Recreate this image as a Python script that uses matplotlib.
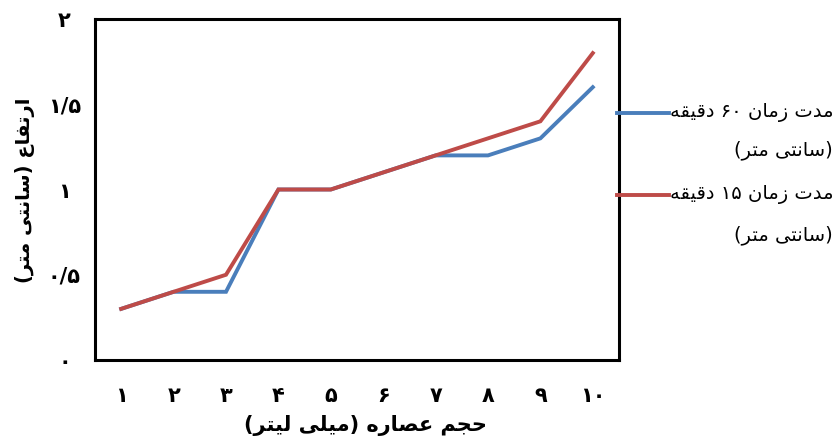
import re
import matplotlib
matplotlib.use("Agg")
import matplotlib.pyplot as plt
from matplotlib.lines import Line2D

plt.rcParams['font.family'] = ['DejaVu Sans']

# data
volume = [1, 2, 3, 4, 5, 6, 7, 8, 9, 10]
x_labels = ['۱', '۲', '۳', '۴', '۵', '۶', '۷', '۸', '۹', '۱۰']
h_60min = [0.3, 0.4, 0.4, 1.0, 1.0, 1.1, 1.2, 1.2, 1.3, 1.6]
h_15min = [0.3, 0.4, 0.5, 1.0, 1.0, 1.1, 1.2, 1.3, 1.4, 1.8]
y_ticks = [0, 0.5, 1, 1.5, 2]
y_labels = ['۰', '۰/۵', '۱', '۱/۵', '۲']

name_60 = 'مدت زمان ۶۰ دقیقه'
name_15 = 'مدت زمان ۱۵ دقیقه'
unit = '(سانتی متر)'
xlabel = 'حجم عصاره (میلی لیتر)'
ylabel = 'ارتفاع (سانتی متر)'

# matplotlib does no arabic shaping or bidi, so pick presentation forms by hand
FORMS = {
    'ا': ('\uFE8D', '\uFE8E'),
    'د': ('\uFEA9', '\uFEAA'),
    'ر': ('\uFEAD', '\uFEAE'),
    'ز': ('\uFEAF', '\uFEB0'),
    'ت': ('\uFE95', '\uFE96', '\uFE97', '\uFE98'),
    'ج': ('\uFE9D', '\uFE9E', '\uFE9F', '\uFEA0'),
    'ح': ('\uFEA1', '\uFEA2', '\uFEA3', '\uFEA4'),
    'س': ('\uFEB1', '\uFEB2', '\uFEB3', '\uFEB4'),
    'ص': ('\uFEB9', '\uFEBA', '\uFEBB', '\uFEBC'),
    'ع': ('\uFEC9', '\uFECA', '\uFECB', '\uFECC'),
    'ف': ('\uFED1', '\uFED2', '\uFED3', '\uFED4'),
    'ق': ('\uFED5', '\uFED6', '\uFED7', '\uFED8'),
    'ل': ('\uFEDD', '\uFEDE', '\uFEDF', '\uFEE0'),
    'م': ('\uFEE1', '\uFEE2', '\uFEE3', '\uFEE4'),
    'ن': ('\uFEE5', '\uFEE6', '\uFEE7', '\uFEE8'),
    'ه': ('\uFEE9', '\uFEEA', '\uFEEB', '\uFEEC'),
    '\u06CC': ('\uFEEF', '\uFEF0', '\uFEF3', '\uFEF4'),
    '\u064A': ('\uFEEF', '\uFEF0', '\uFEF3', '\uFEF4'),
}


def shape(s):
    out = []
    for i, c in enumerate(s):
        if c not in FORMS:
            out.append(c)
            continue
        f = FORMS[c]
        prev = s[i - 1] if i > 0 else ''
        nxt = s[i + 1] if i + 1 < len(s) else ''
        jp = prev in FORMS and len(FORMS[prev]) == 4
        jn = len(f) == 4 and nxt in FORMS
        if jp and jn:
            out.append(f[3])
        elif jp:
            out.append(f[1])
        elif jn:
            out.append(f[2])
        else:
            out.append(f[0])
    return ''.join(out)


def rtl(s):
    t = shape(s)[::-1]
    t = t.replace('(', '\0').replace(')', '(').replace('\0', ')')
    # digit runs stay left to right
    return re.sub('[\u06F0-\u06F9]+', lambda m: m.group(0)[::-1], t)


fig = plt.figure(figsize=(8.38, 4.4), dpi=100)
ax = fig.add_axes([95 / 838, 1 - 360 / 440, 524 / 838, 341 / 440])

c60 = '#4A7EBB'
c15 = '#BE4B48'
ax.plot(volume, h_60min, color=c60, lw=2.8, solid_joinstyle='miter')
ax.plot(volume, h_15min, color=c15, lw=2.8, solid_joinstyle='miter')

ax.set_xlim(0.5, 10.5)
ax.set_ylim(0, 2)
ax.set_xticks(volume)
ax.set_xticklabels(x_labels, fontsize=15, fontweight='bold')
ax.set_yticks(y_ticks)
ax.set_yticklabels(y_labels, fontsize=15, fontweight='bold', ha='center')
ax.tick_params(axis='x', length=0, pad=19)
ax.tick_params(axis='y', length=0, pad=22)
for sp in ax.spines.values():
    sp.set_linewidth(2.2)
    sp.set_color('black')

fig.text(365 / 838, 1 - 425 / 440, rtl(xlabel), ha='center', va='center',
         fontsize=15, fontweight='bold')
fig.text(25 / 838, 1 - 190 / 440, rtl(ylabel), ha='center', va='center',
         fontsize=14, fontweight='bold', rotation=90)

# legend drawn by hand: line stub on the right spine, text beside it
for col, name, y1, y2 in [(c60, name_60, 113, 150), (c15, name_15, 195, 235)]:
    fig.add_artist(Line2D([617 / 838, 669 / 838], [1 - y1 / 440] * 2, color=col, lw=2.8))
    fig.text(833 / 838, 1 - y1 / 440, rtl(name), ha='right', va='center', fontsize=14)
    fig.text(833 / 838, 1 - y2 / 440, rtl(unit), ha='right', va='center', fontsize=14)

fig.savefig('out.png', dpi=100)
